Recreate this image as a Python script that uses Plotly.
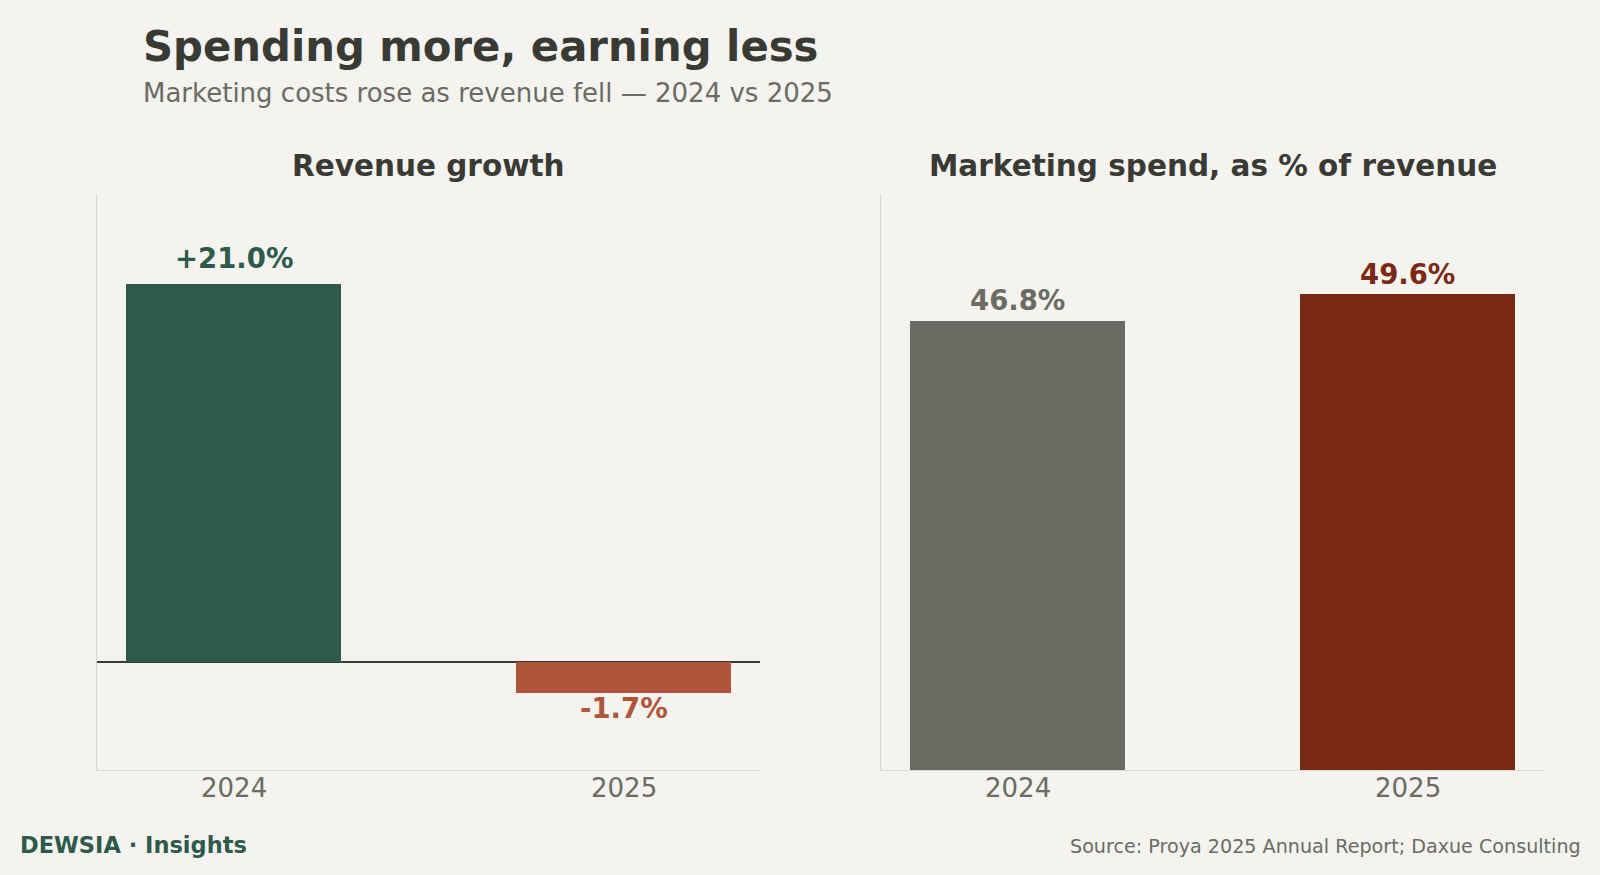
import plotly.graph_objects as go

years = ["2024", "2025"]
revenue_growth = [21.0, -1.7]
marketing_pct = [46.8, 49.6]
growth_labels = ["+21.0%", "-1.7%"]
mkt_labels = ["46.8%", "49.6%"]
growth_colors = ["#2e5a4b", "#b0553a"]
mkt_colors = ["#6b6b63", "#7a2a14"]

W, H = 1600, 875
BG = "#f4f3ef"
SANS = "DejaVu Sans, sans-serif"
DARK = "#3a3a35"
GREY = "#6b6b63"
SPINE = "#dcd9d2"

def px_x(a, b):
    return [a / W, b / W]

def px_y(top, bottom):
    return [1 - bottom / H, 1 - top / H]

fig = go.Figure()
fig.add_trace(go.Bar(x=years, y=revenue_growth, marker_color=growth_colors,
                     marker_line_width=0, width=0.55, xaxis="x", yaxis="y",
                     showlegend=False, hoverinfo="skip"))
fig.add_trace(go.Bar(x=years, y=marketing_pct, marker_color=mkt_colors,
                     marker_line_width=0, width=0.55, xaxis="x2", yaxis="y2",
                     showlegend=False, hoverinfo="skip"))

axis_common = dict(showgrid=False, zeroline=False, ticks="", showline=True,
                   linecolor=SPINE, linewidth=1, showticklabels=False)
fig.update_layout(
    width=W, height=H, paper_bgcolor=BG, plot_bgcolor=BG,
    margin=dict(l=0, r=0, t=0, b=0),
    bargap=0,
    xaxis=dict(domain=px_x(97, 760), range=[-0.35, 1.35], type="category",
               anchor="y", **axis_common),
    yaxis=dict(domain=px_y(194, 770), range=[-6, 26], showticklabels=False,
               showgrid=False, zeroline=True, zerolinecolor=DARK, zerolinewidth=1.6,
               showline=True, linecolor=SPINE, linewidth=1, ticks="", anchor="x"),
    xaxis2=dict(domain=px_x(881, 1544), range=[-0.35, 1.35], type="category",
                anchor="y2", **axis_common),
    yaxis2=dict(domain=px_y(194, 770), range=[0, 60], showticklabels=False,
                showgrid=False, zeroline=False, showline=True, linecolor=SPINE,
                linewidth=1, ticks="", anchor="x2"),
)

ann = []
# value labels
for i, (v, t, c) in enumerate(zip(revenue_growth, growth_labels, growth_colors)):
    ann.append(dict(x=i, y=v, xref="x", yref="y", text=f"<b>{t}</b>", showarrow=False,
                    yanchor="middle", yshift=26 if v >= 0 else -15,
                    font=dict(family=SANS, size=27.5, color=c)))
for i, (v, t, c) in enumerate(zip(marketing_pct, mkt_labels, mkt_colors)):
    ann.append(dict(x=i, y=v, xref="x2", yref="y2", text=f"<b>{t}</b>", showarrow=False,
                    yanchor="middle", yshift=21 if i == 0 else 20,
                    font=dict(family=SANS, size=27.5, color=c)))
# category labels under each panel
for xr in ("x", "x2"):
    for i, yr in enumerate(years):
        ann.append(dict(x=i, y=1 - 770 / H, xref=xr, yref="paper", text=yr,
                        showarrow=False, yanchor="middle", yshift=-18,
                        font=dict(family=SANS, size=26, color=GREY)))
# titles
ann.append(dict(x=141 / W, y=1 - 46 / H, xref="paper", yref="paper", xanchor="left",
                yanchor="middle", showarrow=False, text="<b>Spending more, earning less</b>",
                font=dict(family=SANS, size=41.75, color=DARK)))
ann.append(dict(x=141 / W, y=1 - 93 / H, xref="paper", yref="paper", xanchor="left",
                yanchor="middle", showarrow=False,
                text="Marketing costs rose as revenue fell — 2024 vs 2025",
                font=dict(family=SANS, size=26, color=GREY)))
ann.append(dict(x=428.5 / W, y=1 - 166 / H, xref="paper", yref="paper", xanchor="center",
                yanchor="middle", showarrow=False, text="<b>Revenue growth</b>",
                font=dict(family=SANS, size=29.5, color=DARK)))
ann.append(dict(x=1212.5 / W, y=1 - 166 / H, xref="paper", yref="paper", xanchor="center",
                yanchor="middle", showarrow=False, text="<b>Marketing spend, as % of revenue</b>",
                font=dict(family=SANS, size=29.5, color=DARK)))
# footer
ann.append(dict(x=18 / W, y=1 - 845 / H, xref="paper", yref="paper", xanchor="left",
                yanchor="middle", showarrow=False, text="<b>DEWSIA · Insights</b>",
                font=dict(family=SANS, size=22.5, color="#2e5a4b")))
ann.append(dict(x=1583 / W, y=1 - 846 / H, xref="paper", yref="paper", xanchor="right",
                yanchor="middle", showarrow=False,
                text="Source: Proya 2025 Annual Report; Daxue Consulting",
                font=dict(family=SANS, size=19.15, color=GREY)))
fig.update_layout(annotations=ann)

fig.write_html("out.html")
